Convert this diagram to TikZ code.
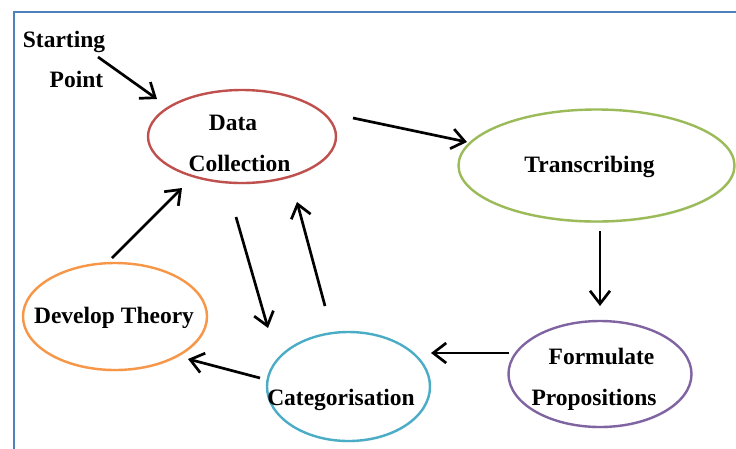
\documentclass[tikz,border=0pt]{standalone}
\usepackage{fontspec}
\setmainfont{Liberation Serif}
\usetikzlibrary{arrows.meta,shapes.geometric,shadows}
\definecolor{frameblue}{RGB}{79,129,189}
\definecolor{dcred}{RGB}{192,80,77}
\definecolor{trgreen}{RGB}{155,187,89}
\definecolor{dtorange}{RGB}{247,150,70}
\definecolor{catblue}{RGB}{75,172,198}
\definecolor{fppurple}{RGB}{128,100,162}
\begin{document}
\begin{tikzpicture}[x=1pt,y=-1pt,
  stage/.style={ellipse, line width=2.4pt, fill=white, inner sep=0pt,
    drop shadow={opacity=0.12,shadow xshift=1pt,shadow yshift=-1.5pt}},
  word/.style={font=\fontsize{23.5}{28}\selectfont\bfseries, anchor=base, inner sep=0pt},
  flow/.style={line width=2.7pt, -{Straight Barb[length=13pt,width=20pt,line width=2.7pt]}}]
\useasboundingbox (0,0) rectangle (736,448);

% outer frame
\draw[line width=2.2pt, frameblue] (14,470) -- (14,12) -- (760,12);

% stages of the cycle
\node[stage, draw=dcred, minimum width=188pt, minimum height=93pt] (dc) at (242,136.5) {};
\node[stage, draw=trgreen, minimum width=276pt, minimum height=112pt] (tr) at (596.5,165.5) {};
\node[stage, draw=dtorange, minimum width=184pt, minimum height=107pt] (dt) at (115,316.5) {};
\node[stage, draw=catblue, minimum width=163pt, minimum height=109pt] (cat) at (348.5,386.5) {};
\node[stage, draw=fppurple, minimum width=183pt, minimum height=106pt] (fp) at (600,374) {};

% labels
\node[word] (st1) at (64,47) {Starting};
\node[word] (st2) at (76.5,87) {Point};
\node[word] (dc1) at (233,130) {Data};
\node[word] (dc2) at (239.5,171) {Collection};
\node[word] (tr1) at (589.5,172) {Transcribing};
\node[word] (dt1) at (114,323.5) {Develop Theory};
\node[word] (cat1) at (341,405) {Categorisation};
\node[word] (fp1) at (601.5,364) {Formulate};
\node[word] (fp2) at (594,405) {Propositions};

% arrow end points
\coordinate (sA) at (98,57);   \coordinate (sB) at (157,99);
\coordinate (dtA) at (353,118); \coordinate (dtB) at (467,142);
\coordinate (tfA) at (600,231); \coordinate (tfB) at (600,306);
\coordinate (fcA) at (509,353); \coordinate (fcB) at (431,353);
\coordinate (cdA) at (260,378); \coordinate (cdB) at (188,359);
\coordinate (ddA) at (112,258); \coordinate (ddB) at (182,188);
\coordinate (dnA) at (236,217); \coordinate (dnB) at (268,328);
\coordinate (upA) at (325,306); \coordinate (upB) at (297,202);

% connectors
\draw[flow] (sA) -- (sB);
\draw[flow] (dtA) -- (dtB);
\draw[flow] (tfA) -- (tfB);
\draw[flow] (fcA) -- (fcB);
\draw[flow] (cdA) -- (cdB);
\draw[flow] (ddA) -- (ddB);
\draw[flow] (dnA) -- (dnB);
\draw[flow] (upA) -- (upB);
\end{tikzpicture}
\end{document}
